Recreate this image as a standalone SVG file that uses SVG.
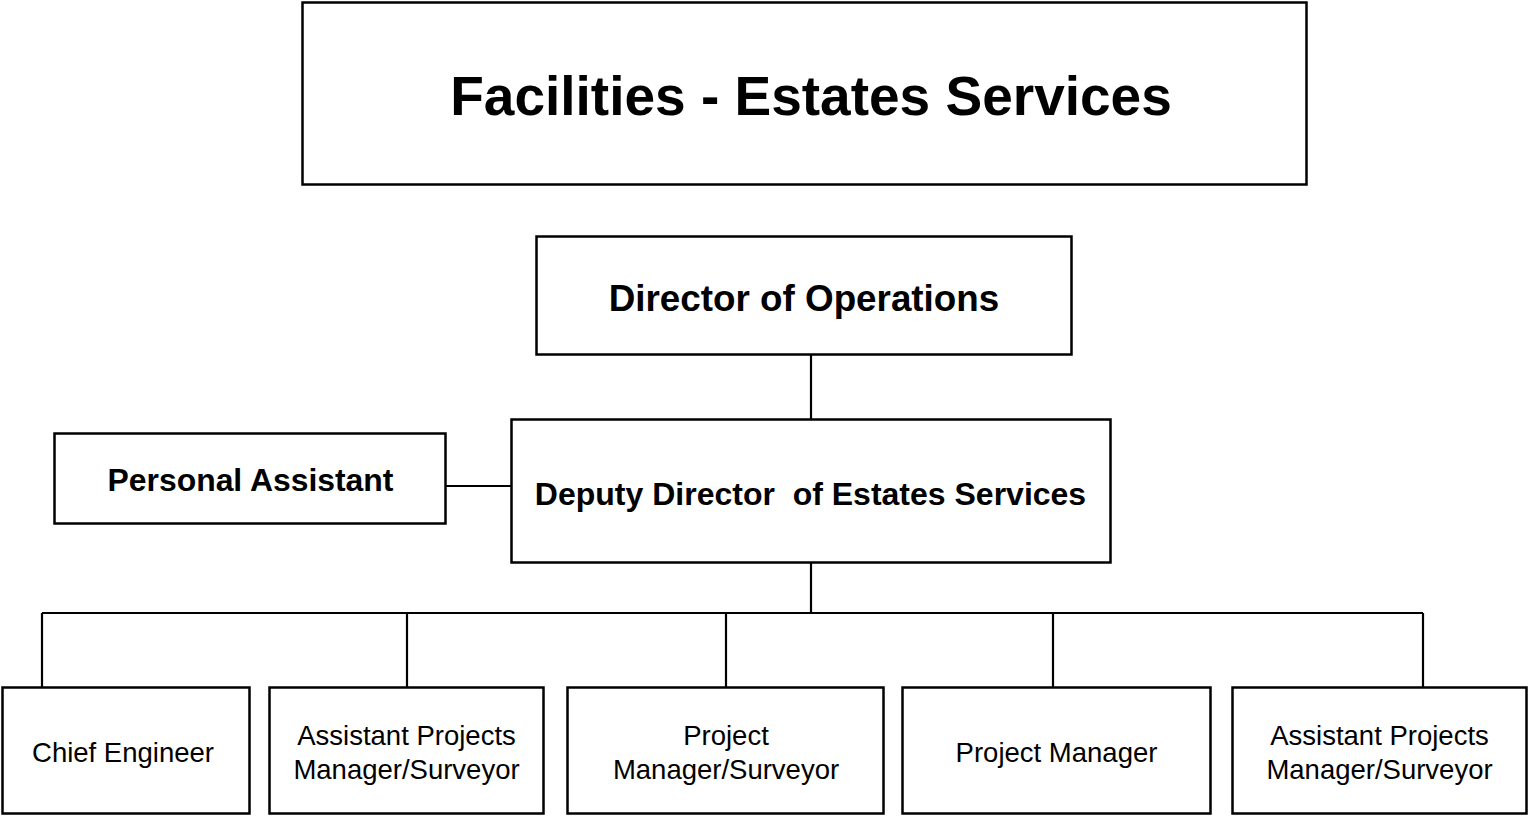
<svg xmlns="http://www.w3.org/2000/svg" width="1528" height="817" viewBox="0 0 1528 817">
  <style>
    .box { fill: #fff; stroke: #000; stroke-width: 2.5; }
    .link { fill: none; stroke: #000; stroke-width: 2.2; }
    .t { font-family: "Liberation Sans", Arial, sans-serif; fill: #000; text-anchor: middle; }
    .b { font-weight: bold; }
    .s { font-size: 27.5px; }
  </style>
  <rect width="1528" height="817" fill="#fff"/>

  <g id="connectors">
    <line class="link" x1="811" y1="354" x2="811" y2="419"/>
    <line class="link" x1="446" y1="486" x2="511" y2="486"/>
    <line class="link" x1="811" y1="563" x2="811" y2="613"/>
    <line class="link" x1="42" y1="613" x2="1423" y2="613"/>
    <line class="link" x1="42" y1="613" x2="42" y2="687"/>
    <line class="link" x1="407" y1="613" x2="407" y2="687"/>
    <line class="link" x1="726" y1="613" x2="726" y2="687"/>
    <line class="link" x1="1053" y1="613" x2="1053" y2="687"/>
    <line class="link" x1="1423" y1="613" x2="1423" y2="687"/>
  </g>

  <g id="title">
    <rect class="box" x="302.5" y="2.5" width="1004" height="182"/>
    <text class="t b" x="811" y="115" font-size="55">Facilities - Estates Services</text>
  </g>

  <g id="director">
    <rect class="box" x="536.5" y="236.5" width="535" height="118"/>
    <text class="t b" x="804" y="311" font-size="36.8">Director of Operations</text>
  </g>

  <g id="deputy">
    <rect class="box" x="511.5" y="419.5" width="599" height="143"/>
    <text class="t b" x="810.5" y="505" font-size="32" xml:space="preserve">Deputy Director  of Estates Services</text>
  </g>

  <g id="assistant">
    <rect class="box" x="54.5" y="433.5" width="391" height="90"/>
    <text class="t b" x="250.5" y="491" font-size="31.9">Personal Assistant</text>
  </g>

  <g id="chief-engineer">
    <rect class="box" x="2.5" y="687.5" width="247" height="126"/>
    <text class="t s" x="123" y="762">Chief Engineer</text>
  </g>

  <g id="asst-pm-1">
    <rect class="box" x="269.5" y="687.5" width="274" height="126"/>
    <text class="t s" x="406.5" y="745">Assistant Projects</text>
    <text class="t s" x="406.5" y="779">Manager/Surveyor</text>
  </g>

  <g id="pm-surveyor">
    <rect class="box" x="567.5" y="687.5" width="316" height="126"/>
    <text class="t s" x="726" y="745">Project</text>
    <text class="t s" x="726" y="779">Manager/Surveyor</text>
  </g>

  <g id="project-manager">
    <rect class="box" x="902.5" y="687.5" width="308" height="126"/>
    <text class="t s" x="1056.5" y="762">Project Manager</text>
  </g>

  <g id="asst-pm-2">
    <rect class="box" x="1232.5" y="687.5" width="294" height="126"/>
    <text class="t s" x="1379.5" y="745">Assistant Projects</text>
    <text class="t s" x="1379.5" y="779">Manager/Surveyor</text>
  </g>
</svg>
